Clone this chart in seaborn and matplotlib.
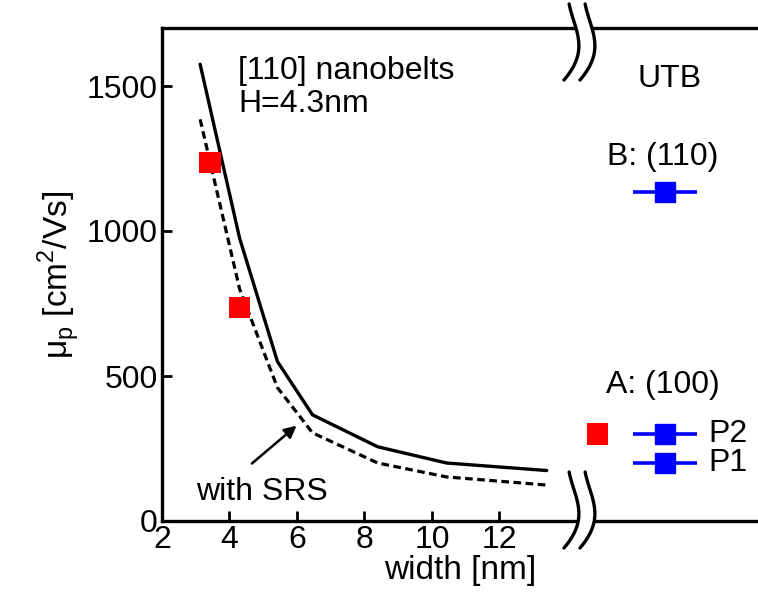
import numpy as np
import pandas as pd
import matplotlib as mpl
mpl.use("Agg")
import matplotlib.pyplot as plt
import seaborn as sns

# nanobelt simulation curves
WIDTH = [3.13, 4.3, 5.42, 6.46, 8.39, 10.43, 13.4]
MU_NO_SRS = [1575, 975, 550, 366, 256, 200, 174]
MU_SRS = [1385, 800, 460, 304, 200, 152, 124]

# red squares (nanobelt experiments)
RED_X = [3.42, 4.3]
RED_Y = [1237, 736]

# UTB section (right of the break)
UTB_RED_X = [14.9]
UTB_RED_Y = [300]
UTB_BLUE_X = [16.9, 16.9, 16.9]
UTB_BLUE_Y = [1134, 300, 200]
UTB_BLUE_XERR = 0.95

sns.set_style("ticks")
plt.rcParams["font.family"] = ["Liberation Sans", "DejaVu Sans"]
plt.rcParams["mathtext.fontset"] = "custom"
plt.rcParams["mathtext.rm"] = "Liberation Sans"
for key in ["text.color", "axes.labelcolor", "xtick.color", "ytick.color",
            "axes.edgecolor"]:
    plt.rcParams[key] = "black"
FS = 23

fig = plt.figure(figsize=(7.58, 6.07), dpi=100)
ax = fig.add_axes([162 / 758, 86 / 607, 596 / 758, 493 / 607])

curves = pd.DataFrame({"width": WIDTH * 2,
                       "mu": MU_NO_SRS + MU_SRS,
                       "case": ["no SRS"] * len(WIDTH) + ["SRS"] * len(WIDTH)})
sns.lineplot(data=curves[curves.case == "no SRS"], x="width", y="mu",
             color="black", lw=2.4, ax=ax)
sns.lineplot(data=curves[curves.case == "SRS"], x="width", y="mu",
             color="black", lw=2.3, ax=ax, linestyle=(0, (2.4, 1.4)))

sns.scatterplot(x=RED_X + UTB_RED_X, y=RED_Y + UTB_RED_Y, marker="s", s=240,
                color="red", edgecolor="none", ax=ax, zorder=4)
ax.errorbar(UTB_BLUE_X, UTB_BLUE_Y, xerr=UTB_BLUE_XERR, fmt="s", color="blue",
            ms=14, lw=2.6, capsize=0, zorder=4)

ax.set_xlim(2, 19.66)
ax.set_ylim(0, 1700)
ax.set_xticks([2, 4, 6, 8, 10, 12])
ax.set_yticks([0, 500, 1000, 1500])
ax.tick_params(direction="in", length=7, width=2, labelsize=FS, pad=3,
               top=False, right=False)
ax.spines["right"].set_visible(False)
for s in ["left", "bottom", "top"]:
    ax.spines[s].set_linewidth(2.4)
ax.set_xlabel("width [nm]", fontsize=FS + 1, labelpad=0)
ax.set_ylabel("μ$_\\mathregular{p}$ [cm$^\\mathregular{2}$/Vs]", fontsize=FS + 1,
              labelpad=4)

# annotations
ax.text(4.25, 1552, "[110] nanobelts", fontsize=FS, va="center")
ax.text(4.25, 1438, "H=4.3nm", fontsize=FS, va="center")
ax.text(17.05, 1524, "UTB", fontsize=FS, ha="center", va="center")
ax.text(16.85, 1255, "B: (110)", fontsize=FS, ha="center", va="center")
ax.text(16.85, 470, "A: (100)", fontsize=FS, ha="center", va="center")
ax.text(18.2, 300, "P2", fontsize=FS, va="center")
ax.text(18.2, 200, "P1", fontsize=FS, va="center")
ax.text(4.95, 100, "with SRS", fontsize=FS, ha="center", va="center")
ax.annotate("", xy=(6.05, 335), xytext=(4.6, 192),
            arrowprops=dict(arrowstyle="-|>", color="black", lw=1.8,
                            mutation_scale=18))

# axis break marks
W, H = 596.0, 493.0
s = np.linspace(0, 1, 60)
dx = 6 * np.sin(np.pi * (1.3 * s - 0.3)) - 10 * s ** 4
dy = 38 - 76 * s
for cy in [521 - 42, 521 - 510]:
    ax.plot((574 - 162 + 8 + dx) / W, (cy + dy) / H, color="white", lw=10,
            transform=ax.transAxes, clip_on=False, zorder=6,
            solid_capstyle="butt")
    for off in [0, 16]:
        ax.plot((574 - 162 + off + dx) / W, (cy + dy) / H, color="black", lw=2.4,
                transform=ax.transAxes, clip_on=False, zorder=7)

fig.savefig("out.png", dpi=100)
